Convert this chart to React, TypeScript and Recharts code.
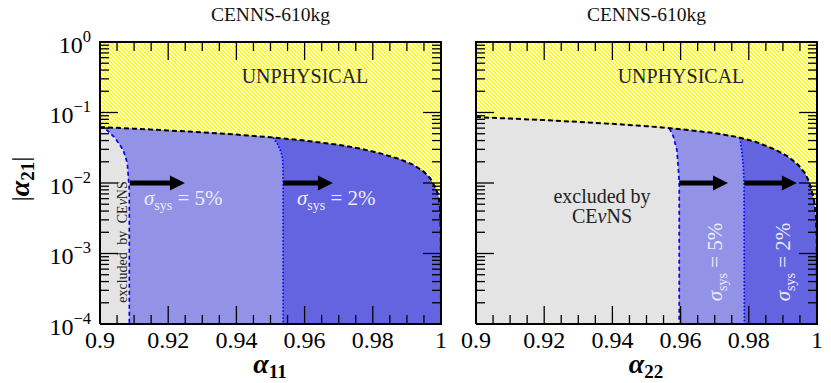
import React from "react"
import { ComposedChart, XAxis, YAxis, Area, Line } from "recharts"

const FONT = "'Liberation Serif', 'DejaVu Serif', serif"

// axis ticks: minor every 0.005, labelled every 0.02; log minor ticks 2..9
const xTicks = [
  0.9, 0.905, 0.91, 0.915, 0.92, 0.925, 0.93, 0.935, 0.94, 0.945, 0.95,
  0.955, 0.96, 0.965, 0.97, 0.975, 0.98, 0.985, 0.99, 0.995, 1,
]
const decades = [1e-4, 1e-3, 1e-2, 1e-1]
const minorSteps = [1, 2, 3, 4, 5, 6, 7, 8, 9]
const yTicks = [...decades.flatMap((d) => minorSteps.map((m) => +(d * m).toPrecision(3))), 1]

const Y_MIN = 1e-4
const ARROW_Y = 0.01

// left panel: unphysical boundary |a21| vs a11
const leftCurveA = [
  0.9, 0.91, 0.92, 0.93, 0.94, 0.95, 0.96, 0.97, 0.976, 0.982, 0.988, 0.992,
  0.995, 0.9968, 0.9982, 0.9992, 0.9997, 0.99993, 1,
]
const leftCurveV = [
  0.062, 0.059, 0.0557, 0.0523, 0.0486, 0.0445, 0.04, 0.0348, 0.031, 0.0265,
  0.0217, 0.018, 0.0144, 0.0117, 0.0089, 0.0068, 0.0045, 0.002, 0.0001,
]
// CEvNS exclusion edge (dashed) and sigma_sys edge (dotted)
const leftDashA = [0.9, 0.9015, 0.9044, 0.9068, 0.908, 0.9083, 0.9086, 0.9086]
const leftDashV = [0.062, 0.0597, 0.0435, 0.0294, 0.0192, 0.0123, 0.008, 0.0001]
const leftDotA = [0.9508, 0.9522, 0.9531, 0.9536, 0.9537, 0.9537]
const leftDotV = [0.0442, 0.0346, 0.0275, 0.0212, 0.012, 0.0001]
const leftArrowFrom = [0.9088, 0.9537]
const leftArrowTo = [0.9208, 0.9642]

// right panel: |a21| vs a22
const rightCurveA = [
  0.9, 0.91, 0.92, 0.93, 0.94, 0.95, 0.96, 0.97, 0.976, 0.982, 0.988, 0.9916,
  0.9945, 0.9965, 0.9977, 0.9984, 0.9992, 0.9997, 0.99993, 1,
]
const rightCurveV = [
  0.086, 0.082, 0.078, 0.0735, 0.069, 0.064, 0.058, 0.051, 0.0455, 0.0385,
  0.0294, 0.0236, 0.018, 0.0137, 0.0104, 0.008, 0.0055, 0.0032, 0.0015, 0.0001,
]
const rightDashA = [0.9567, 0.9579, 0.9589, 0.9593, 0.9596, 0.9596]
const rightDashV = [0.0597, 0.0454, 0.0294, 0.017, 0.01, 0.0001]
const rightDotA = [0.9774, 0.9779, 0.9784, 0.9786, 0.9787]
const rightDotV = [0.0435, 0.0294, 0.017, 0.01, 0.0001]
const rightArrowFrom = [0.9596, 0.9787]
const rightArrowTo = [0.9698, 0.99]

const PLOT_W = 341
const PLOT_H = 282

const pts = (a: number[], v: number[]) => a.map((x, i) => ({ x, y: v[i] }))
const band = (a: number[], v: number[]) => a.map((x, i) => ({ x, r: [Y_MIN, v[i]] }))
// region under the curve, to the left of an edge
const under = (ca: number[], cv: number[], ea: number[], ev: number[]) => {
  const keep = ca.map((x) => x < ea[0] - 1e-9)
  return band(
    [...ca.filter((_, i) => keep[i]), ...ea],
    [...cv.filter((_, i) => keep[i]), ...ev]
  )
}

const isMajorX = (v: number) => Math.abs(v * 50 - Math.round(v * 50)) < 1e-6
const isMajorY = (v: number) => {
  const l = Math.log10(v)
  return Math.abs(l - Math.round(l)) < 1e-6
}
const fmtX = (v: number) => (v === 1 ? "1" : v === 0.9 ? "0.9" : v.toFixed(2))

function XTick(props: any) {
  const { x, y, payload } = props
  const v = payload.value
  const major = isMajorX(v)
  const len = major ? 18 : 9
  return (
    <g>
      <line x1={x} x2={x} y1={y} y2={y - len} stroke="#000" strokeWidth={1.3} />
      <line x1={x} x2={x} y1={y - PLOT_H} y2={y - PLOT_H + len} stroke="#000" strokeWidth={1.3} />
      {major && (
        <text x={x} y={y + 24} textAnchor="middle" fontSize={24} fontFamily={FONT} fill="#000">
          {fmtX(v)}
        </text>
      )}
    </g>
  )
}

function makeYTick(showLabel: boolean) {
  return (props: any) => {
    const { x, y, payload } = props
    const v = payload.value
    const major = isMajorY(v)
    const len = major ? 18 : 9
    const exp = Math.round(Math.log10(v))
    return (
      <g>
        <line x1={x} x2={x + len} y1={y} y2={y} stroke="#000" strokeWidth={1.3} />
        <line x1={x + PLOT_W - len} x2={x + PLOT_W} y1={y} y2={y} stroke="#000" strokeWidth={1.3} />
        {showLabel && major && (
          <text x={x - 9} y={y + 10.5} textAnchor="end" fontSize={24} fontFamily={FONT} fill="#000">
            10
            <tspan fontSize={16.5} dy={-11}>
              {exp === 0 ? "0" : `\u2212${-exp}`}
            </tspan>
          </text>
        )}
      </g>
    )
  }
}

function arrowHead(p: any) {
  if (p.index !== 1) return <g key={`a${p.index}`} />
  const { cx, cy } = p
  return (
    <path
      key={`a${p.index}`}
      d={`M${cx - 1},${cy - 7.5} L${cx + 14},${cy} L${cx - 1},${cy + 7.5} Z`}
      fill="#000"
    />
  )
}

type PanelProps = {
  id: string
  width: number
  axisWidth: number
  marginRight: number
  showYLabels: boolean
  curveA: number[]
  curveV: number[]
  dashA: number[]
  dashV: number[]
  dotA: number[]
  dotV: number[]
  arrowFrom: number[]
  arrowTo: number[]
}

function Panel(p: PanelProps) {
  const hatchId = `hatch-${p.id}`
  const full = band([0.9, 1], [1, 1])
  const dark = band(p.curveA, p.curveV)
  const light = under(p.curveA, p.curveV, p.dotA, p.dotV)
  const grey = under(p.curveA, p.curveV, p.dashA, p.dashV)
  const frame = [
    { x: 0.9, y: Y_MIN },
    { x: 0.9, y: 1 },
    { x: 1, y: 1 },
    { x: 1, y: Y_MIN },
    { x: 0.9, y: Y_MIN },
  ]
  return (
    <ComposedChart
      width={p.width}
      height={383}
      margin={{ top: 42, right: p.marginRight, bottom: 0, left: 0 }}
    >
      <defs>
        <pattern id={hatchId} patternUnits="userSpaceOnUse" width="4" height="4">
          <rect width="4" height="4" fill="#ffffff" />
          <g fill="#ffff00" shapeRendering="crispEdges">
            <rect x="0" y="0" width="2" height="1" />
            <rect x="1" y="1" width="2" height="1" />
            <rect x="2" y="2" width="2" height="1" />
            <rect x="3" y="3" width="1" height="1" />
            <rect x="0" y="3" width="1" height="1" />
          </g>
        </pattern>
      </defs>
      <XAxis
        type="number"
        dataKey="x"
        domain={[0.9, 1]}
        ticks={xTicks}
        interval={0}
        tick={(t: any) => <XTick {...t} />}
        tickLine={false}
        axisLine={false}
        tickSize={0}
        tickMargin={0}
        height={59}
      />
      <YAxis
        type="number"
        scale="log"
        domain={[Y_MIN, 1]}
        ticks={yTicks}
        interval={0}
        tick={makeYTick(p.showYLabels)}
        tickLine={false}
        axisLine={false}
        tickSize={0}
        tickMargin={0}
        width={p.axisWidth}
      />
      <Area data={full} dataKey="r" type="linear" stroke="none" fill={`url(#${hatchId})`} fillOpacity={1} isAnimationActive={false} dot={false} activeDot={false} />
      <Area data={dark} dataKey="r" type="linear" stroke="none" fill="#6464e0" fillOpacity={1} isAnimationActive={false} dot={false} activeDot={false} />
      <Area data={light} dataKey="r" type="linear" stroke="none" fill="#9292e6" fillOpacity={1} isAnimationActive={false} dot={false} activeDot={false} />
      <Area data={grey} dataKey="r" type="linear" stroke="none" fill="#e4e4e4" fillOpacity={1} isAnimationActive={false} dot={false} activeDot={false} />
      <Line data={pts(p.dashA, p.dashV)} dataKey="y" type="linear" stroke="#0000ff" strokeWidth={1.7} strokeDasharray="4 3" dot={false} activeDot={false} isAnimationActive={false} />
      <Line data={pts(p.dotA, p.dotV)} dataKey="y" type="linear" stroke="#0000ff" strokeWidth={1.7} strokeDasharray="1.5 2" dot={false} activeDot={false} isAnimationActive={false} />
      <Line data={pts(p.curveA, p.curveV)} dataKey="y" type="linear" stroke="#000" strokeWidth={2} strokeDasharray="5 3" dot={false} activeDot={false} isAnimationActive={false} />
      {p.arrowFrom.map((a, i) => (
        <Line
          key={`arrow${i}`}
          data={pts([a, p.arrowTo[i]], [ARROW_Y, ARROW_Y])}
          dataKey="y"
          type="linear"
          stroke="#000"
          strokeWidth={5}
          dot={arrowHead}
          activeDot={false}
          isAnimationActive={false}
        />
      ))}
      <Line data={frame} dataKey="y" type="linear" stroke="#000" strokeWidth={2} dot={false} activeDot={false} isAnimationActive={false} />
    </ComposedChart>
  )
}

function Sigma({ x, y, pct, rotate }: { x: number; y: number; pct: string; rotate?: boolean }) {
  return (
    <text
      x={x}
      y={y}
      dy={rotate ? 7 : 0}
      textAnchor={rotate ? "middle" : "start"}
      transform={rotate ? `rotate(-90 ${x} ${y})` : undefined}
      fontSize={21}
      fontFamily={FONT}
      fill="#ececfa"
    >
      <tspan fontStyle="italic">σ</tspan>
      <tspan fontSize={14} dy={5}>sys</tspan>
      <tspan dy={-5}>{` = ${pct}%`}</tspan>
    </text>
  )
}

export default function App() {
  return (
    <div style={{ position: "absolute", left: 0, top: 0, width: 831, height: 383, background: "#fff" }}>
      <div style={{ position: "absolute", left: 0, top: 0 }}>
        <Panel
          id="l"
          width={450}
          axisWidth={100}
          marginRight={9}
          showYLabels
          curveA={leftCurveA}
          curveV={leftCurveV}
          dashA={leftDashA}
          dashV={leftDashV}
          dotA={leftDotA}
          dotV={leftDotV}
          arrowFrom={leftArrowFrom}
          arrowTo={leftArrowTo}
        />
      </div>
      <div style={{ position: "absolute", left: 450, top: 0 }}>
        <Panel
          id="r"
          width={381}
          axisWidth={26}
          marginRight={14}
          showYLabels={false}
          curveA={rightCurveA}
          curveV={rightCurveV}
          dashA={rightDashA}
          dashV={rightDashV}
          dotA={rightDotA}
          dotV={rightDotV}
          arrowFrom={rightArrowFrom}
          arrowTo={rightArrowTo}
        />
      </div>
      <svg
        width={831}
        height={383}
        style={{ position: "absolute", left: 0, top: 0, pointerEvents: "none" }}
        fontFamily={FONT}
      >
        <text x={270.5} y={21} textAnchor="middle" fontSize={19.5} fill="#111">CENNS-610kg</text>
        <text x={646.5} y={21} textAnchor="middle" fontSize={19.5} fill="#111">CENNS-610kg</text>
        <text x={305} y={83} textAnchor="middle" fontSize={20} fill="#222">UNPHYSICAL</text>
        <text x={681} y={83} textAnchor="middle" fontSize={20} fill="#222">UNPHYSICAL</text>

        <Sigma x={144} y={205} pct="5" />
        <Sigma x={297} y={205} pct="2" />
        <Sigma x={715} y={262} pct="5" rotate />
        <Sigma x={783} y={262} pct="2" rotate />

        <text x={122} y={242} dy={5} textAnchor="middle" fontSize={14} fill="#222" wordSpacing={4} transform="rotate(-90 122 242)">
          excluded by CE<tspan fontStyle="italic">ν</tspan>NS
        </text>
        <text x={602} y={203} textAnchor="middle" fontSize={20} fill="#222">excluded by</text>
        <text x={602} y={223} textAnchor="middle" fontSize={20} fill="#222">
          CE<tspan fontStyle="italic">ν</tspan>NS
        </text>

        <text x={270} y={373} textAnchor="middle" fontWeight="bold" fill="#000">
          <tspan fontStyle="italic" fontSize={28}>α</tspan>
          <tspan fontSize={19} dy={5}>11</tspan>
        </text>
        <text x={646} y={373} textAnchor="middle" fontWeight="bold" fill="#000">
          <tspan fontStyle="italic" fontSize={28}>α</tspan>
          <tspan fontSize={19} dy={5}>22</tspan>
        </text>
        <text x={20} y={179} dy={9} textAnchor="middle" fontWeight="bold" fill="#000" transform="rotate(-90 20 179)">
          <tspan fontSize={26} fontWeight="normal">|</tspan>
          <tspan fontStyle="italic" fontSize={28}>α</tspan>
          <tspan fontSize={19} dy={5}>21</tspan>
          <tspan fontSize={26} fontWeight="normal" dy={-5}>|</tspan>
        </text>
      </svg>
    </div>
  )
}
